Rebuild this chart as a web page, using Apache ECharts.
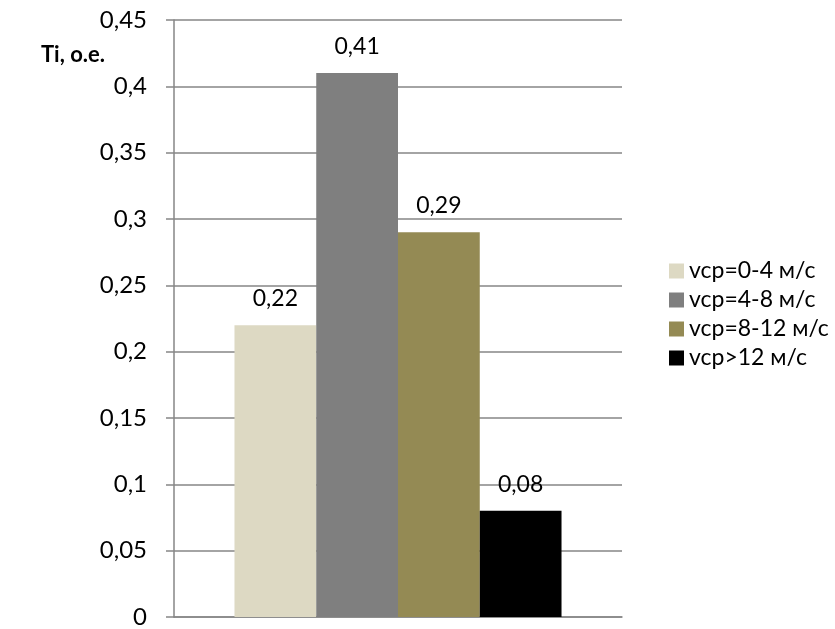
<!DOCTYPE html>
<html>
<head>
<meta charset="utf-8">
<script src="https://cdn.jsdelivr.net/npm/echarts@6/dist/echarts.min.js"></script>
<style>
  html, body { margin: 0; padding: 0; background: #fff; }
  #chart { width: 835px; height: 629px; }
</style>
</head>
<body>
<div id="chart"></div>
<script>
// Wind speed ranges and their shares Ti (relative units)
const categories = ['Ti'];
const seriesNames = ['vcp=0-4 м/с', 'vcp=4-8 м/с', 'vcp=8-12 м/с', 'vcp>12 м/с'];
const seriesValues = [0.22, 0.41, 0.29, 0.08];
const seriesColors = ['#DDD9C3', '#7F7F7F', '#948A54', '#000000'];
const yTicks = { min: 0, max: 0.45, step: 0.05 };
const yTitle = 'Ti, o.e.';

const FONT = 'Lato, "Open Sans", sans-serif';
const fmt = v => String(+v.toFixed(2)).replace('.', ',');

const chart = echarts.init(document.getElementById('chart'), null, { renderer: 'canvas' });

chart.setOption({
  animation: false,
  backgroundColor: '#ffffff',
  textStyle: { fontFamily: FONT },
  grid: { left: 174, right: 213, top: 20, bottom: 9, containLabel: false },
  title: {
    text: yTitle,
    left: 36,
    top: 39,
    textStyle: { fontFamily: FONT, fontSize: 22, fontWeight: 'bold', color: '#000' }
  },
  legend: {
    orient: 'vertical',
    left: 664,
    top: 'middle',
    itemWidth: 15,
    itemHeight: 15,
    itemGap: 6,
    icon: 'rect',
    data: seriesNames,
    textStyle: { fontFamily: FONT, fontSize: 23, color: '#000' }
  },
  xAxis: {
    type: 'category',
    data: categories,
    axisLine: { show: true, lineStyle: { color: '#868686', width: 1.5 } },
    axisTick: { show: false },
    axisLabel: { show: false },
    splitLine: { show: false }
  },
  yAxis: {
    type: 'value',
    min: yTicks.min,
    max: yTicks.max,
    interval: yTicks.step,
    axisLine: { show: true, lineStyle: { color: '#868686', width: 1.5 } },
    axisTick: { show: true, inside: false, length: 8, lineStyle: { color: '#868686', width: 1.5 } },
    axisLabel: {
      margin: 27,
      fontFamily: FONT,
      fontSize: 24,
      color: '#000',
      formatter: v => fmt(v)
    },
    splitLine: { show: true, lineStyle: { color: '#868686', width: 1.5 } }
  },
  series: seriesNames.map((name, i) => ({
    name,
    type: 'bar',
    data: [seriesValues[i]],
    barGap: '0%',
    barCategoryGap: '27%',
    itemStyle: { color: seriesColors[i] },
    label: {
      show: true,
      position: 'top',
      distance: 15,
      fontFamily: FONT,
      fontSize: 23,
      color: '#000',
      formatter: p => fmt(p.value)
    }
  }))
});
</script>
</body>
</html>
